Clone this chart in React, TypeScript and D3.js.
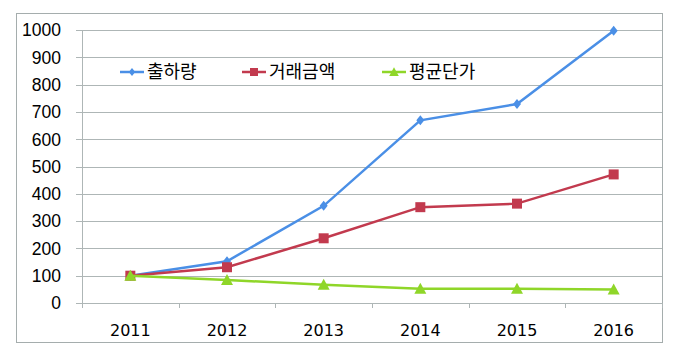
import React from "react";
import * as d3 from "d3";

const years = ["2011", "2012", "2013", "2014", "2015", "2016"];
const shipment = [100, 153, 356, 669, 729, 997];
const tradeAmount = [100, 131, 237, 351, 364, 471];
const avgPrice = [100, 84, 67, 52, 52, 49];
const seriesNames = ["출하량", "거래금액", "평균단가"];
const yTicks = [0, 100, 200, 300, 400, 500, 600, 700, 800, 900, 1000];

const colors = ["#4A8FE6", "#C23A4E", "#8FD629"];

export default function App() {
  const W = 680, H = 356;
  const left = 82, right = 662, top = 30, bottom = 303;
  const x = d3.scaleBand<string>().domain(years).range([left, right]);
  const y = d3.scaleLinear().domain([0, 1000]).range([bottom, top]);
  const data = [shipment, tradeAmount, avgPrice];
  const line = d3
    .line<number>()
    .x((_, i) => (x(years[i]) as number) + x.bandwidth() / 2)
    .y((d) => y(d));

  const marker = (k: number, cx: number, cy: number, key: string, s = 1) => {
    if (k === 0) {
      return (
        <path
          key={key}
          d={`M${cx},${cy - 5 * s}L${cx + 4 * s},${cy}L${cx},${cy + 5 * s}L${cx - 4 * s},${cy}Z`}
          fill={colors[0]}
        />
      );
    }
    if (k === 1) {
      return <rect key={key} x={cx - 5 * s} y={cy - 5 * s} width={10 * s} height={10 * s} fill={colors[1]} />;
    }
    return (
      <path
        key={key}
        d={`M${cx},${cy - 6 * s}L${cx + 6 * s},${cy + 5 * s}L${cx - 6 * s},${cy + 5 * s}Z`}
        fill={colors[2]}
      />
    );
  };

  const legendX = [120, 242, 382];
  const legendY = 72;

  return (
    <svg
      width={W}
      height={H}
      style={{ position: "absolute", left: 0, top: 0, background: "#fff" }}
    >
      <rect x={0} y={0} width={W} height={H} fill="#fff" />
      <rect x={16.5} y={13.5} width={646} height={329} fill="none" stroke="#A5ADAD" strokeWidth={1} />
      {yTicks.map((t) => (
        <g key={t}>
          <line x1={left - 6} x2={right} y1={Math.round(y(t)) + 0.5} y2={Math.round(y(t)) + 0.5} stroke="#AEB6B6" strokeWidth={1} />
          <text
            x={61}
            y={y(t)}
            dy="0.36em"
            textAnchor="end"
            fontFamily="'Liberation Sans', Arial, sans-serif"
            fontSize={17.5}
            fill="#000"
          >
            {t}
          </text>
        </g>
      ))}
      <line x1={left + 0.5} x2={left + 0.5} y1={top} y2={bottom + 5} stroke="#AEB6B6" />
      {years.map((yr) => (
        <g key={yr}>
          <line
            x1={Math.round((x(yr) as number) + x.bandwidth()) + 0.5}
            x2={Math.round((x(yr) as number) + x.bandwidth()) + 0.5}
            y1={bottom}
            y2={bottom + 5}
            stroke="#AEB6B6"
          />
          <text
            x={(x(yr) as number) + x.bandwidth() / 2}
            y={336}
            textAnchor="middle"
            fontFamily="'DejaVu Sans', Verdana, sans-serif"
            fontSize={16}
            fill="#000"
          >
            {yr}
          </text>
        </g>
      ))}
      {data.map((s, k) => (
        <g key={k}>
          <path d={line(s) as string} fill="none" stroke={colors[k]} strokeWidth={2.5} />
          {s.map((v, i) =>
            marker(k, (x(years[i]) as number) + x.bandwidth() / 2, y(v), `${k}-${i}`)
          )}
        </g>
      ))}
      {seriesNames.map((n, k) => (
        <g key={n}>
          <line x1={legendX[k]} x2={legendX[k] + 24} y1={legendY} y2={legendY} stroke={colors[k]} strokeWidth={2.5} />
          {marker(k, legendX[k] + 12, legendY, `lg${k}`, 0.8)}
          <text
            x={legendX[k] + 27}
            y={legendY}
            dy="0.36em"
            fontFamily="'Noto Sans CJK KR', sans-serif"
            fontSize={18}
            fill="#000"
          >
            {n}
          </text>
        </g>
      ))}
    </svg>
  );
}
